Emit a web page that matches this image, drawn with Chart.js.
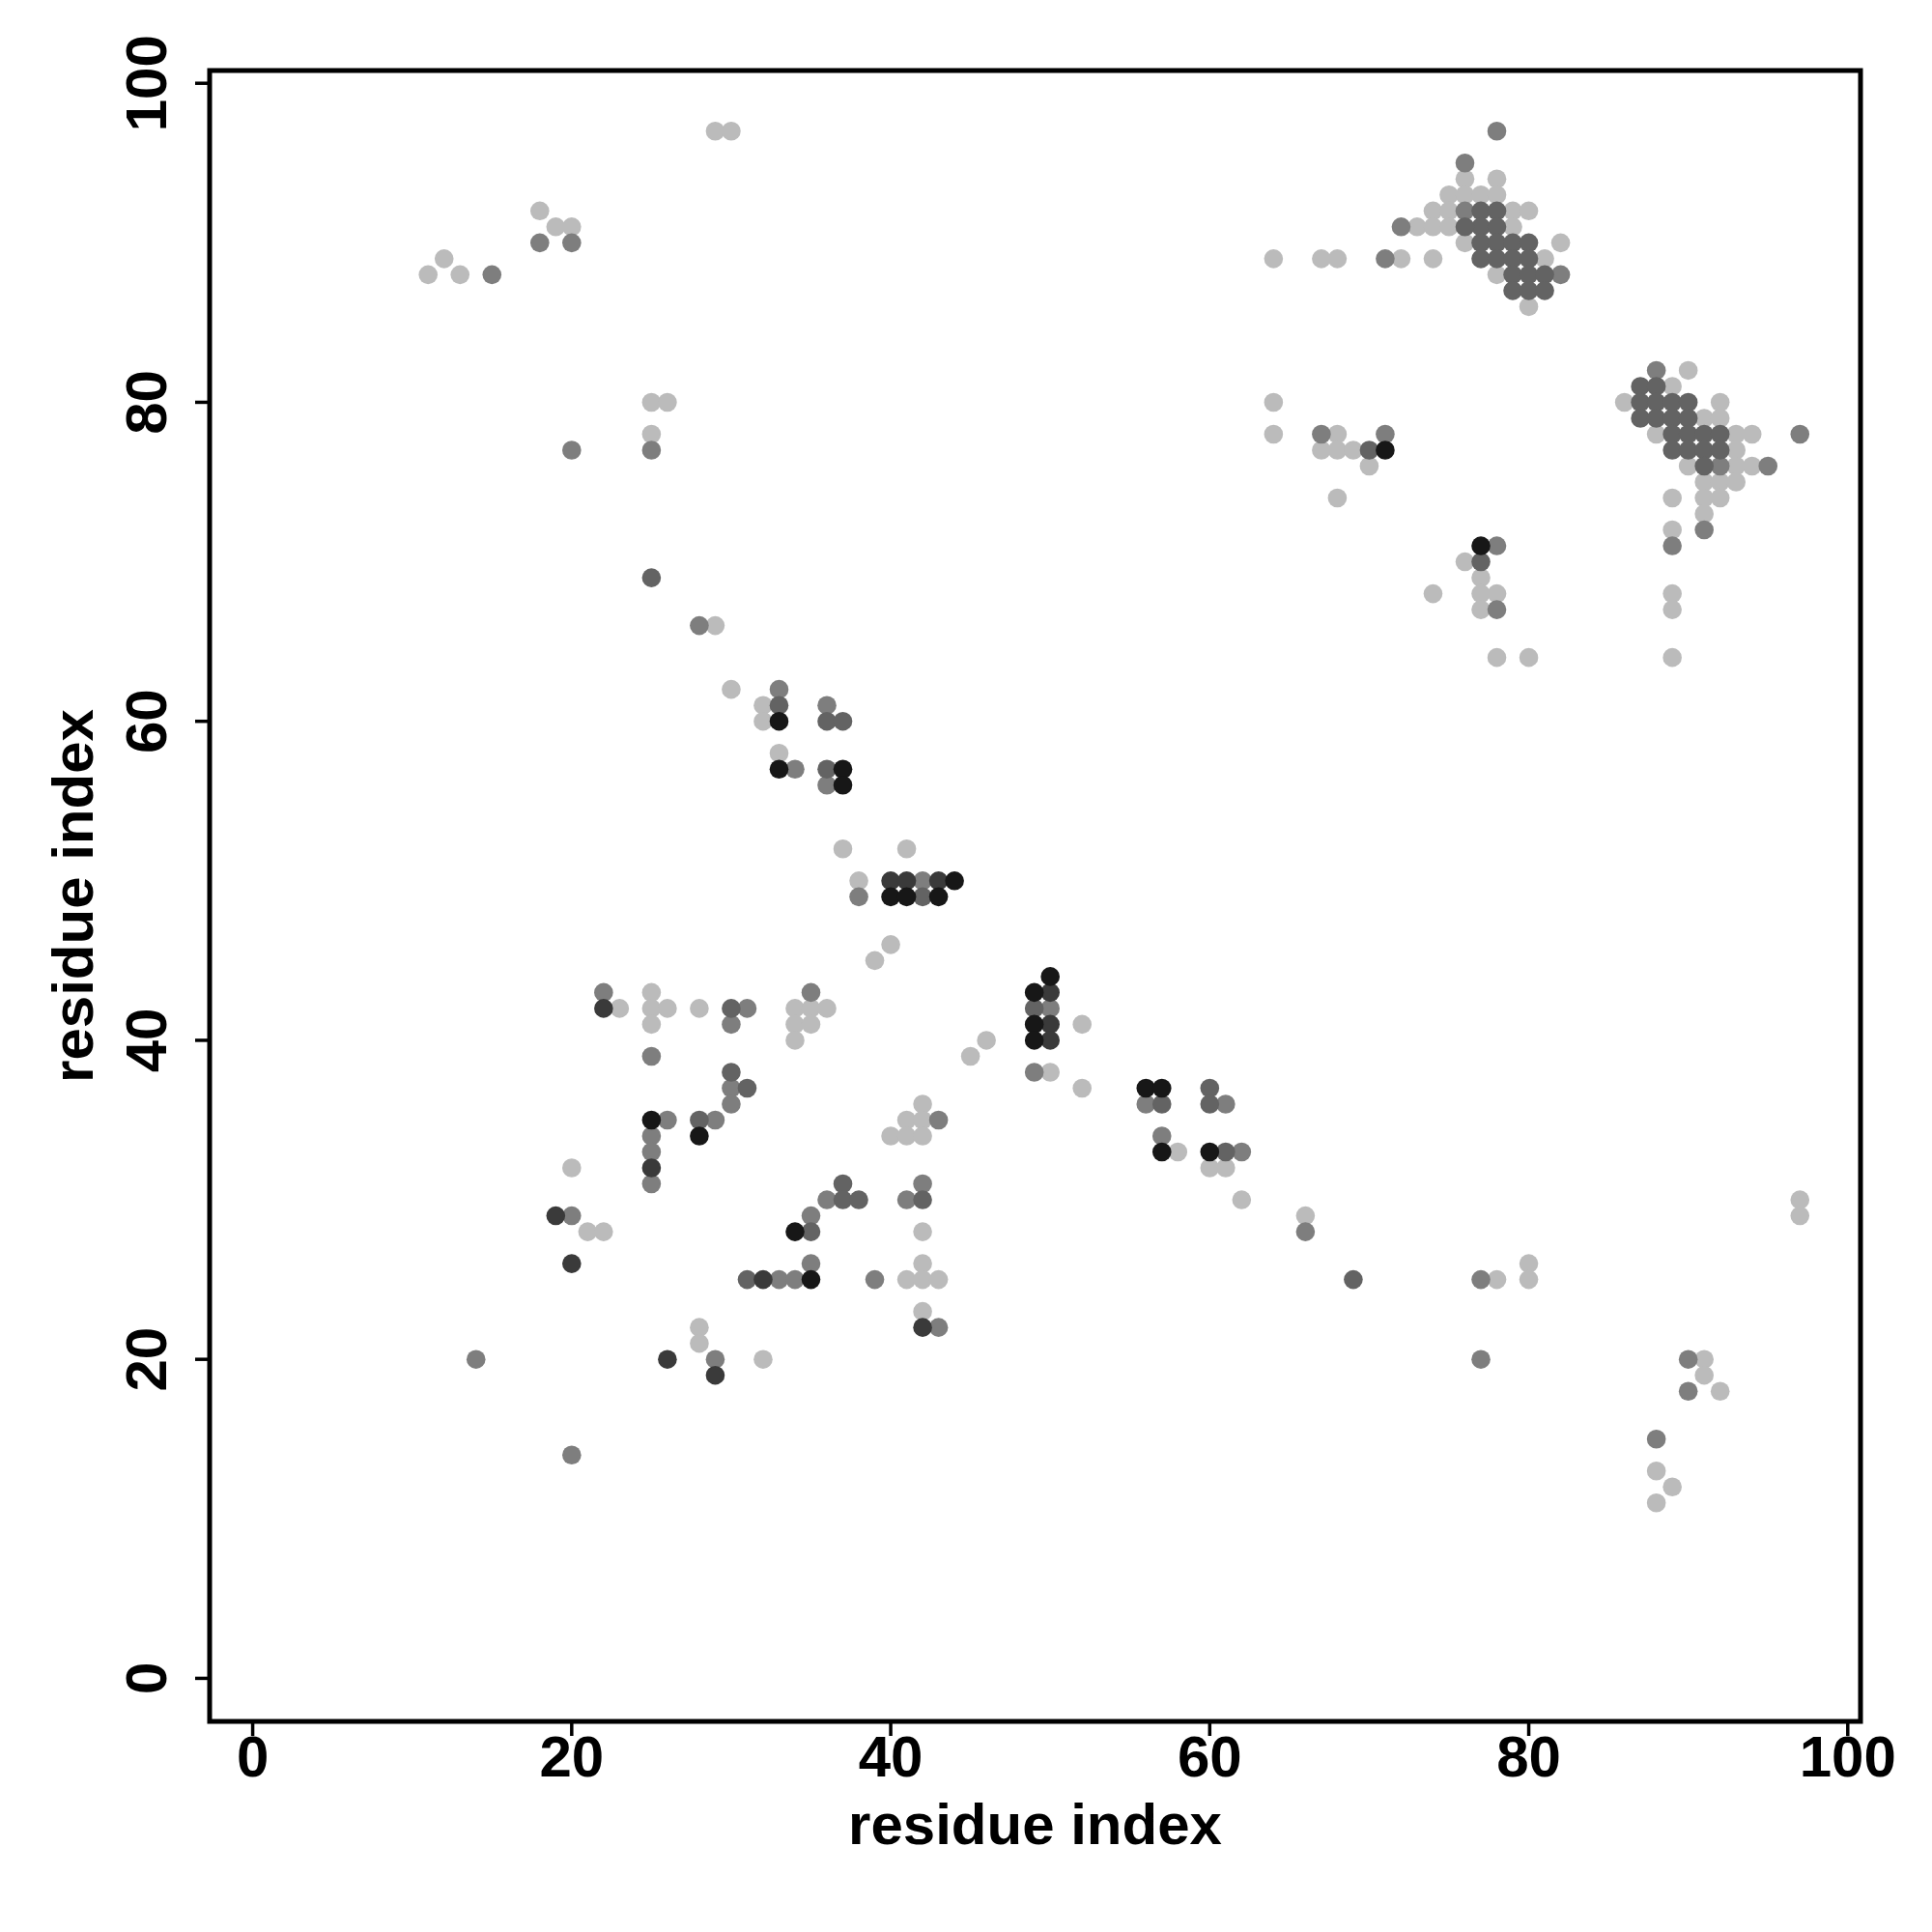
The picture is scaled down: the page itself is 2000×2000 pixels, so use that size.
<!DOCTYPE html>
<html>
<head>
<meta charset="utf-8">
<script src="https://cdn.jsdelivr.net/npm/chart.js@4.4.1/dist/chart.umd.min.js"></script>
<style>
  html, body { margin: 0; padding: 0; background: #ffffff; }
  #wrap { width: 2000px; height: 2000px; }
</style>
</head>
<body>
<div id="wrap"><canvas id="contact_canvas" width="2000" height="2000"></canvas></div>
<script>
// contact pairs [i, j] grouped by grey level
const lightPts = [
  [29,97],[30,97],[18,92],[19,91],[20,91],[12,89],[11,88],[13,88],[25,80],[26,80],[25,78],
  [29,66],[30,62],[32,61],[32,60],[33,58],
  [76,94],[75,93],[76,93],[77,93],[78,94],[78,93],[74,92],[75,92],[79,92],[80,92],
  [73,91],[74,91],[75,91],[79,91],[76,90],[82,90],[64,89],[67,89],[68,89],[72,89],[74,89],
  [81,89],[78,88],[80,86],
  [64,80],[64,78],[68,78],[67,77],[68,77],[69,77],[70,76],[68,74],[76,70],[77,69],[74,68],
  [77,68],[78,68],[77,67],[78,64],[80,64],
  [90,82],[89,81],[86,80],[92,80],[91,79],[92,79],[88,78],[93,78],[94,78],[93,77],[90,76],
  [93,76],[94,76],[91,75],[92,75],[93,75],[89,74],[91,74],[92,74],[91,73],[89,72],[89,68],
  [89,67],[89,64],
  [37,52],[41,52],[38,50],[40,46],[39,45],[23,42],[25,43],[25,42],[26,42],[25,41],[28,42],
  [34,42],[35,42],[36,42],[34,41],[35,41],[34,40],[46,40],[45,39],[50,38],[52,41],[52,37],
  [20,32],[21,28],[22,28],[28,22],[28,21],[32,20],[42,36],[41,35],[42,35],[40,34],[41,34],
  [42,34],[42,28],[42,26],[41,25],[42,25],[43,25],[42,23],[58,33],[60,32],[61,32],[62,30],
  [66,29],[78,25],[80,26],[80,25],[97,30],[97,29],[91,20],[91,19],[92,18],[88,13],[89,12],
  [88,11]
];
const midPts = [
  [18,90],[20,90],[15,88],[20,77],[25,77],[28,66],[76,95],[78,97],[76,92],[72,91],[71,89],
  [82,88],[67,78],[71,78],[78,71],[78,67],[88,82],[97,78],[95,76],[92,76],[91,72],[89,71],
  [33,62],[36,61],[34,57],[36,56],[38,49],[42,50],[22,43],[31,42],[30,41],[25,39],[35,43],
  [50,42],[49,38],[30,37],[30,36],[26,35],[29,35],[25,34],[25,33],[25,31],[20,29],[29,20],
  [14,20],[20,14],[43,35],[36,30],[35,29],[42,31],[41,30],[35,26],[33,25],[34,25],[39,25],
  [43,22],[56,36],[61,36],[57,34],[62,33],[66,28],[77,25],[77,20],[90,20],[90,18],[88,15]
];
const darkPts = [
  [25,69],[77,92],[77,91],[77,90],[77,89],[76,91],[78,92],[78,91],[78,90],[78,89],[79,90],
  [80,90],[79,89],[80,89],[79,88],[80,88],[81,88],[79,87],[80,87],[81,87],[70,77],[77,70],
  [87,81],[88,81],[87,80],[88,80],[89,80],[90,80],[87,79],[88,79],[89,79],[90,79],[89,78],
  [90,78],[91,78],[92,78],[89,77],[90,77],[91,77],[92,77],[91,76],
  [33,61],[36,60],[37,60],[36,57],[42,49],[49,42],[30,42],[30,38],[31,37],[28,35],[31,25],
  [37,31],[37,30],[38,30],[35,28],[42,30],[57,36],[60,37],[60,36],[61,33],[69,25]
];
const deepPts = [
  [40,50],[41,50],[43,50],[50,43],[50,41],[50,40],[22,42],[25,32],[19,29],[20,26],[32,25],
  [42,22],[26,20],[29,19]
];
const blackPts = [
  [71,77],[77,71],[33,60],[33,57],[37,57],[37,56],[44,50],[40,49],[41,49],[43,49],[50,44],
  [49,43],[49,41],[49,40],[25,35],[28,34],[34,28],[35,25],[56,37],[57,37],[57,33],[60,33]
];
const greyLevels = ['#bbbbbb', '#7e7e7e', '#636363', '#3a3a3a', '#171717'];
const tickValues = [0, 20, 40, 60, 80, 100];
const axisTitle = 'residue index';

(function () {
  'use strict';
  const FONT = 'bold 60px "Liberation Sans", Arial, sans-serif';

  function toXY(list) {
    return list.map(p => ({ x: p[0], y: p[1] }));
  }

  const groups = [lightPts, midPts, darkPts, deepPts, blackPts];
  const datasets = groups.map((g, i) => ({
    data: toXY(g),
    backgroundColor: greyLevels[i],
    borderWidth: 0,
    pointRadius: 9.8,
    pointHoverRadius: 9.8,
    order: groups.length - i
  }));

  // R style box, outward ticks and rotated y labels
  const rAxes = {
    id: 'rAxes',
    afterDraw(chart) {
      const ctx = chart.ctx;
      const a = chart.chartArea;
      const xs = chart.scales.x, ys = chart.scales.y;
      ctx.save();
      ctx.strokeStyle = '#000000';
      ctx.fillStyle = '#000000';
      ctx.lineWidth = 5;
      ctx.strokeRect(a.left, a.top, a.right - a.left, a.bottom - a.top);

      ctx.lineWidth = 3.5;
      ctx.font = FONT;
      ctx.textAlign = 'center';
      ctx.textBaseline = 'middle';
      tickValues.forEach(v => {
        const px = xs.getPixelForValue(v);
        ctx.beginPath();
        ctx.moveTo(px, a.bottom);
        ctx.lineTo(px, a.bottom + 15);
        ctx.stroke();
        ctx.fillText(String(v), px, a.bottom + 40);

        const py = ys.getPixelForValue(v);
        ctx.beginPath();
        ctx.moveTo(a.left, py);
        ctx.lineTo(a.left - 15, py);
        ctx.stroke();
        ctx.save();
        ctx.translate(a.left - 62, py);
        ctx.rotate(-Math.PI / 2);
        ctx.fillText(String(v), 0, 0);
        ctx.restore();
      });

      ctx.fillText(axisTitle, (a.left + a.right) / 2, a.bottom + 110);
      ctx.save();
      ctx.translate(a.left - 138, (a.top + a.bottom) / 2);
      ctx.rotate(-Math.PI / 2);
      ctx.fillText(axisTitle, 0, 0);
      ctx.restore();
      ctx.restore();
    }
  };

  const ctx = document.getElementById('contact_canvas').getContext('2d');
  new Chart(ctx, {
    type: 'scatter',
    data: { datasets: datasets },
    options: {
      responsive: false,
      animation: false,
      layout: { padding: { left: 0, top: 73, right: 74, bottom: 0 } },
      plugins: { legend: { display: false }, tooltip: { enabled: false } },
      scales: {
        x: {
          type: 'linear', min: -2.7, max: 100.8,
          grid: { display: false }, border: { display: false },
          ticks: { display: false },
          afterFit(scale) { scale.height = 218; }
        },
        y: {
          type: 'linear', min: -2.7, max: 100.8,
          grid: { display: false }, border: { display: false },
          ticks: { display: false },
          afterFit(scale) { scale.width = 217; }
        }
      }
    },
    plugins: [rAxes]
  });
})();
</script>
</body>
</html>
